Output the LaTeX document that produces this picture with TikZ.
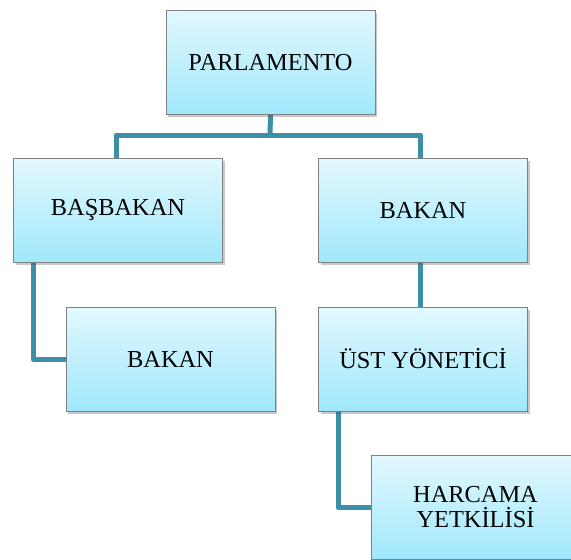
\documentclass[tikz,border=0pt]{standalone}
\usepackage{fontspec}
\setmainfont{Liberation Serif}
\usetikzlibrary{shadows,calc,backgrounds}
\definecolor{boxtop}{RGB}{226,248,254}
\definecolor{boxbot}{RGB}{160,232,252}
\definecolor{boxline}{RGB}{128,128,128}
\definecolor{connc}{RGB}{60,143,165}
\tikzset{
  orgbox/.style={rectangle, draw=boxline, line width=1pt, top color=boxtop, bottom color=boxbot,
    minimum width=209pt, minimum height=104pt, inner sep=0pt, align=center,
    font=\fontsize{24.4}{25}\selectfont,
    drop shadow={shadow xshift=2pt, shadow yshift=-2.5pt, opacity=0.3, fill=black!70}},
  conn/.style={draw=connc, line width=5pt, line join=round}
}
\begin{document}
\begin{tikzpicture}[x=1pt,y=-1pt]
\useasboundingbox (0,0) rectangle (571,560);
\node[orgbox] (parl) at (270.5,62.5) {PARLAMENTO};
\node[orgbox] (basb) at (118,210.5) {BAŞBAKAN};
\node[orgbox] (bakan1) at (423,210.5) {BAKAN};
\node[orgbox] (bakan2) at (170.5,359) {BAKAN};
\node[orgbox] (ust) at (423,359) {ÜST YÖNETİCİ};
\node[orgbox] (harc) at (475.5,507.5) {HARCAMA\\YETKİLİSİ};
\coordinate (bus) at (270,135);
\begin{scope}[on background layer]
\draw[conn] (parl.south) -- (bus);
\draw[conn] (basb.north -| 116,0) |- (bus) -| (bakan1.north -| 420,0);
\draw[conn] ($(basb.south west)+(20,0)$) |- (bakan2.west);
\draw[conn] (bakan1.south -| 420,0) -- (ust.north -| 420,0);
\draw[conn] ($(ust.south west)+(20,0)$) |- (harc.west);
\end{scope}
\end{tikzpicture}
\end{document}
